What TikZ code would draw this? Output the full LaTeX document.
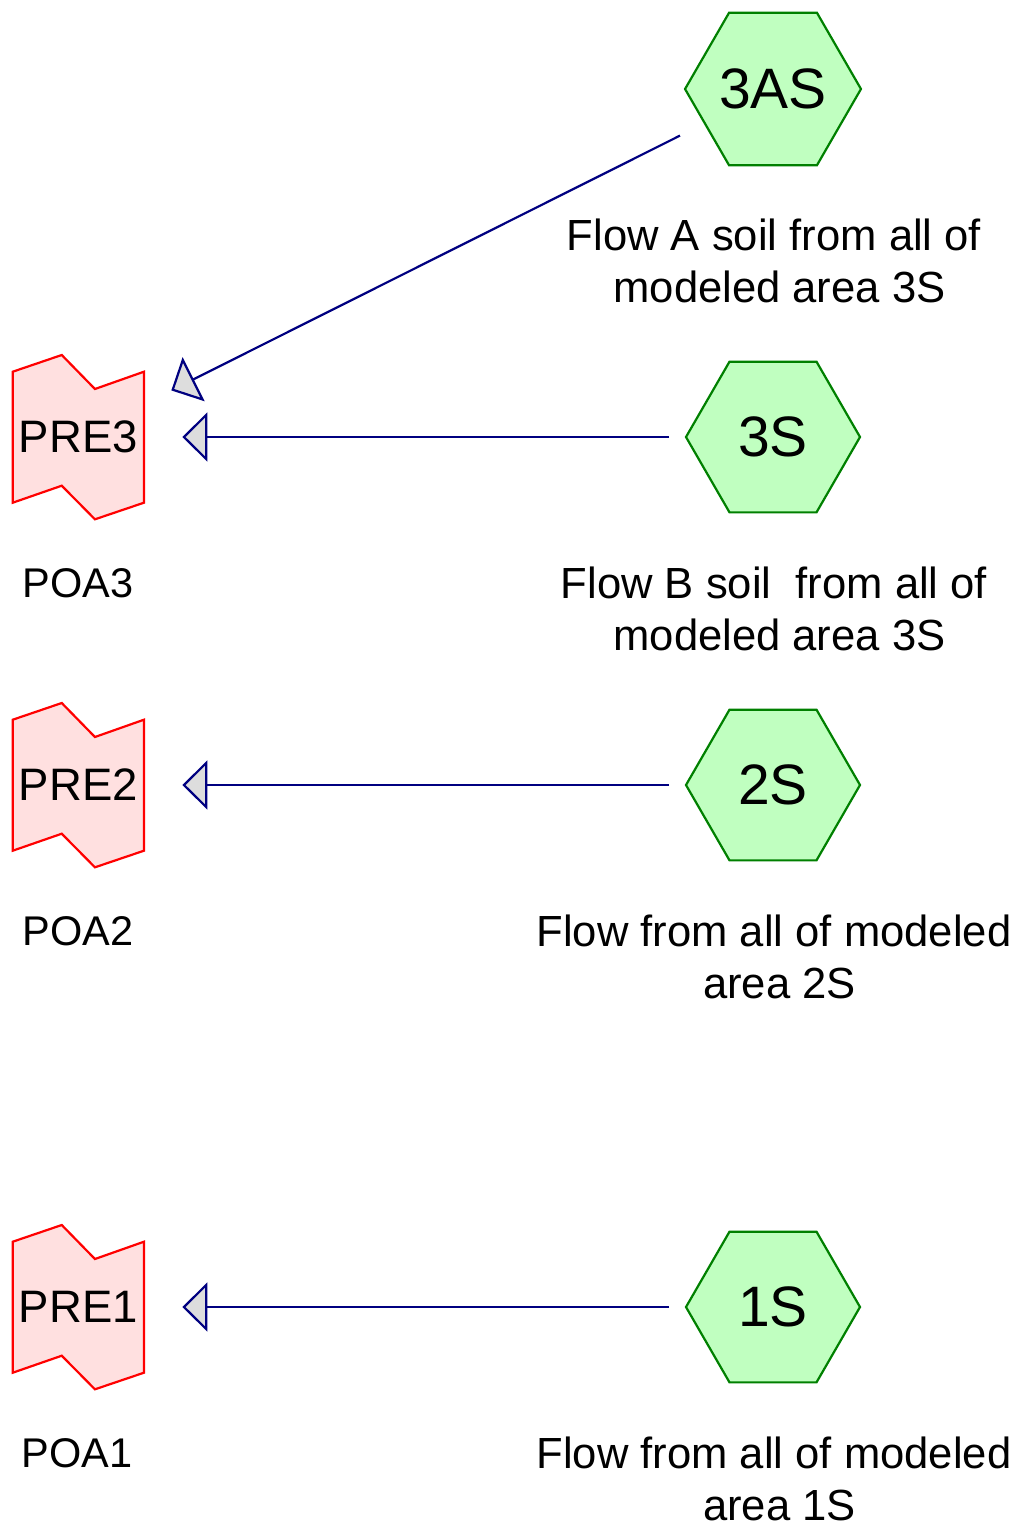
\documentclass[tikz,border=0pt]{standalone}
\usepackage{fontspec}
\setmainfont{Liberation Sans}
\usetikzlibrary{arrows.meta,shapes.geometric}
\definecolor{hexfill}{RGB}{192,255,192}
\definecolor{hexline}{RGB}{0,128,0}
\definecolor{prefill}{RGB}{255,224,224}
\definecolor{preline}{RGB}{255,0,0}
\definecolor{flowline}{RGB}{0,0,128}
\definecolor{tipfill}{RGB}{221,221,221}
\tikzset{
  hexnode/.style={regular polygon, regular polygon sides=6, minimum size=174pt, inner sep=0pt,
    draw=hexline, fill=hexfill, line width=2.2pt, font=\fontsize{57}{68}\selectfont},
  pretext/.style={inner sep=0pt, font=\fontsize{45.5}{55}\selectfont},
  preshape/.style={draw=preline, fill=prefill, line width=2.2pt, line join=miter},
  lbl/.style={inner sep=0pt, align=center, font=\fontsize{43.6}{52}\selectfont},
  poalbl/.style={inner sep=0pt, font=\fontsize{41.5}{50}\selectfont},
  flow/.style={draw=flowline, line width=2.2pt, shorten <=104pt, shorten >=104pt,
    -{Triangle[length=25pt, width=49pt, fill=tipfill]}},
}
\newcommand\preflag[3]{%
  \path[preshape, shift={(78.35,#2)}]
    (-65.6,-65.3) -- (-16.6,-82) -- (16.6,-48) -- (65.6,-65.3)
    -- (65.6,65.7) -- (16.6,82.3) -- (-16.6,48.7) -- (-65.6,65.7) -- cycle;
  \node[pretext] (#1) at (78.35,#2) {#3};
}
\newcommand\nl{\\\hspace*{11pt}}
\begin{document}
\begin{tikzpicture}[x=1pt,y=-1pt]
\useasboundingbox (0,0) rectangle (1013,1532);
% source nodes
\node[hexnode] (h3as) at (773,89) {3AS};
\node[hexnode] (h3s) at (773,437) {3S};
\node[hexnode] (h2s) at (773,785) {2S};
\node[hexnode] (h1s) at (773,1307) {1S};
% receiving nodes
\preflag{pre3}{437}{PRE3}
\preflag{pre2}{785}{PRE2}
\preflag{pre1}{1307}{PRE1}
% labels
\node[lbl] (l3as) at (774,261.4) {Flow A soil from all of\nl modeled area 3S};
\node[lbl] (l3s) at (774,609.4) {Flow B soil\ \ from all of\nl modeled area 3S};
\node[lbl] (l2s) at (774,957.4) {Flow from all of modeled\nl area 2S};
\node[lbl] (l1s) at (774,1478.4) {Flow from all of modeled\nl area 1S};
\node[poalbl] (poa3) at (78,583) {POA3};
\node[poalbl] (poa2) at (78,931) {POA2};
\node[poalbl] (poa1) at (77,1453) {POA1};
% connectors
\draw[flow] (h3as.center) -- (pre3.center);
\draw[flow] (h3s.center) -- (pre3.center);
\draw[flow] (h2s.center) -- (pre2.center);
\draw[flow] (h1s.center) -- (pre1.center);
\end{tikzpicture}
\end{document}
